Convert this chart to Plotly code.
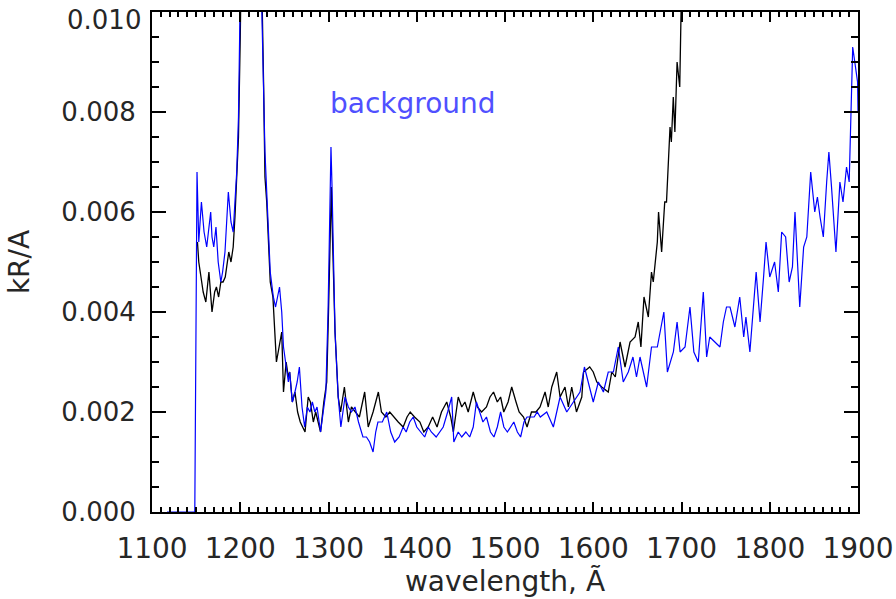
import plotly.graph_objects as go

# ---------------- data ----------------
lam_sig = [1151.5, 1153, 1155.5, 1158, 1161, 1164.5, 1168, 1171, 1173, 1175.5, 1178, 1180.5, 1183, 1187,
           1189.5, 1192, 1194, 1196, 1198, 1200, 1203, 1210, 1216, 1222, 1224.5, 1226.5, 1228, 1230, 1234,
           1237, 1239, 1241, 1244, 1247, 1249, 1252, 1254.5, 1256, 1259, 1262, 1265, 1268, 1273.4, 1277,
           1279.5, 1282.8, 1285.5, 1288, 1291, 1294.7, 1298, 1300, 1302, 1303.2, 1304.5, 1306, 1307.4, 1311,
           1313.7, 1318, 1322.5, 1326, 1330, 1335, 1341, 1345, 1350.5, 1356.5, 1360, 1365, 1369.4, 1374,
           1379, 1384.6, 1389, 1392.6, 1397.5, 1403.6, 1408, 1413, 1418, 1423, 1428, 1434, 1438.5, 1441.5,
           1447, 1451, 1454.6, 1458.3, 1464, 1468.6, 1473.5, 1479, 1483, 1487, 1491.3, 1495, 1498.6, 1503.5,
           1507.6, 1512.5, 1516, 1521, 1525, 1530, 1535, 1539.7, 1545.4, 1549, 1553, 1558.6, 1562.4, 1568,
           1571.8, 1575.6, 1581, 1587, 1589, 1596, 1600, 1604, 1609.6, 1617, 1621, 1625, 1630.4, 1636,
           1641.7, 1647.4, 1651, 1654, 1657.5, 1662.4, 1666, 1668, 1672.6, 1674, 1677.5, 1681, 1683, 1687,
           1688.5, 1690.7, 1692.5, 1695, 1698, 1700, 1702]
val_sig = [0.0054, 0.0050, 0.0047, 0.0044, 0.0042, 0.0048, 0.0040, 0.0044, 0.0045, 0.0043, 0.0046, 0.0046,
           0.0047, 0.0052, 0.0050, 0.0053, 0.0059, 0.0067, 0.0075, 0.0095, 0.0125, 0.0200, 0.0300, 0.0200,
           0.0105, 0.0085, 0.0067, 0.0062, 0.0046, 0.0043, 0.0036, 0.0030, 0.0033, 0.0036, 0.0024, 0.0030,
           0.0027, 0.0028, 0.0022, 0.0024, 0.0020, 0.0018, 0.0016, 0.0023, 0.0022, 0.0018, 0.0020, 0.0018,
           0.0016, 0.0022, 0.0026, 0.0040, 0.0060, 0.0065, 0.0055, 0.0042, 0.0036, 0.0023, 0.0020, 0.0025,
           0.0018, 0.0021, 0.0020, 0.0019, 0.0024, 0.0017, 0.0020, 0.0024, 0.0020, 0.0019, 0.0020, 0.0019,
           0.0018, 0.0017, 0.0019, 0.0020, 0.0019, 0.0018, 0.0016, 0.0017, 0.0019, 0.0017, 0.0020, 0.0022,
           0.0019, 0.0016, 0.0023, 0.0021, 0.0022, 0.0020, 0.0024, 0.0021, 0.0020, 0.0021, 0.0023, 0.0024,
           0.0022, 0.0023, 0.0020, 0.0022, 0.0025, 0.0022, 0.0020, 0.0019, 0.0017, 0.0020, 0.0020, 0.0021,
           0.0024, 0.0021, 0.0025, 0.0028, 0.0023, 0.0025, 0.0021, 0.0025, 0.0020, 0.0023, 0.0028, 0.0029,
           0.0028, 0.0026, 0.0025, 0.0024, 0.0028, 0.0027, 0.0034, 0.0029, 0.0034, 0.0035, 0.0038, 0.0033,
           0.0043, 0.0039, 0.0048, 0.0046, 0.0054, 0.0060, 0.0052, 0.0062, 0.0062, 0.0077, 0.0074, 0.0083,
           0.0076, 0.0090, 0.0085, 0.0105, 0.0130]

lam_bg = [1117, 1148.5, 1151, 1153, 1156, 1159, 1162, 1163.5, 1166.5, 1168, 1170, 1172.5, 1175, 1178, 1180,
          1182.7, 1186.5, 1189.5, 1192, 1194, 1196, 1198, 1200, 1203, 1210, 1216, 1222, 1224.5, 1228, 1230,
          1234, 1237.5, 1240, 1244.5, 1247, 1249, 1251, 1254.5, 1256, 1259, 1262, 1264.5, 1267, 1270, 1273,
          1276, 1279, 1281.7, 1284.5, 1287, 1291, 1294, 1297, 1299.5, 1301.5, 1302.8, 1304, 1305.5, 1307.4,
          1311, 1314, 1318.7, 1322.5, 1326, 1330, 1334, 1339, 1343, 1346.6, 1350.5, 1353.5, 1356, 1361,
          1366, 1370.5, 1375, 1380, 1384.6, 1388, 1392, 1396, 1400, 1404, 1409, 1413, 1416.5, 1422, 1426,
          1430, 1435, 1439.6, 1442, 1447, 1451, 1455.6, 1460, 1464, 1467.6, 1471, 1475, 1479, 1483.5,
          1487.5, 1491.3, 1495, 1498.7, 1502.7, 1506.5, 1510, 1514, 1517.7, 1521.5, 1525, 1529, 1533,
          1536.5, 1540, 1547.3, 1554.8, 1562.4, 1570, 1577.5, 1585, 1590, 1594.5, 1600, 1605.8, 1611.5,
          1617, 1622.8, 1628.4, 1634, 1639.7, 1645, 1649, 1653, 1660.5, 1666, 1672.6, 1680, 1684, 1690.8,
          1695, 1698.4, 1704, 1709.6, 1714, 1719, 1724.7, 1728.5, 1732, 1738, 1743.6, 1747.4, 1751, 1755,
          1760.5, 1766, 1770.5, 1773, 1777.5, 1784.6, 1789, 1793, 1795.8, 1800, 1805.5, 1809.7, 1813.5,
          1818, 1822, 1825.7, 1828.6, 1834, 1838.4, 1842, 1846.4, 1851, 1854, 1857, 1860.7, 1864.5, 1867,
          1870, 1875, 1879.5, 1883, 1887, 1890, 1894, 1896.5, 1899.5, 1900]
val_bg = [0.0, 0.0, 0.0068, 0.0054, 0.0062, 0.0056, 0.0053, 0.0055, 0.0060, 0.0055, 0.0053, 0.0057, 0.0050,
          0.0046, 0.0048, 0.0052, 0.0064, 0.0058, 0.0056, 0.0062, 0.0068, 0.0079, 0.0097, 0.0125, 0.0200,
          0.0300, 0.0200, 0.0100, 0.0072, 0.0063, 0.0048, 0.0043, 0.0041, 0.0045, 0.0040, 0.0033, 0.0030,
          0.0026, 0.0028, 0.0022, 0.0024, 0.0026, 0.0029, 0.0021, 0.0017, 0.0021, 0.0020, 0.0022, 0.0020,
          0.0021, 0.0016, 0.0020, 0.0024, 0.0040, 0.0065, 0.0073, 0.0065, 0.0048, 0.0036, 0.0023, 0.0017,
          0.0023, 0.0021, 0.0020, 0.0021, 0.0018, 0.0015, 0.0015, 0.0014, 0.0012, 0.0016, 0.0018, 0.0018,
          0.0020, 0.0016, 0.0014, 0.0015, 0.0017, 0.0016, 0.0018, 0.0019, 0.0017, 0.0016, 0.0015, 0.0017,
          0.0016, 0.0015, 0.0016, 0.0017, 0.0020, 0.0023, 0.0014, 0.0016, 0.0015, 0.0016, 0.0015, 0.0017,
          0.0022, 0.0020, 0.0018, 0.0019, 0.0016, 0.0015, 0.0017, 0.0020, 0.0017, 0.0016, 0.0017, 0.0018,
          0.0016, 0.0015, 0.0018, 0.0019, 0.0019, 0.0019, 0.0020, 0.0019, 0.0020, 0.0017, 0.0023, 0.0020,
          0.0022, 0.0024, 0.0029, 0.0026, 0.0022, 0.0026, 0.0024, 0.0028, 0.0028, 0.0033, 0.0026, 0.0028,
          0.0031, 0.0027, 0.0031, 0.0025, 0.0033, 0.0033, 0.0040, 0.0028, 0.0032, 0.0038, 0.0032, 0.0033,
          0.0041, 0.0032, 0.0030, 0.0044, 0.0031, 0.0035, 0.0034, 0.0033, 0.0038, 0.0041, 0.0041, 0.0037,
          0.0043, 0.0035, 0.0039, 0.0032, 0.0048, 0.0038, 0.0047, 0.0054, 0.0047, 0.0050, 0.0044, 0.0056,
          0.0055, 0.0046, 0.0049, 0.0060, 0.0041, 0.0053, 0.0055, 0.0068, 0.0060, 0.0063, 0.0059, 0.0055,
          0.0066, 0.0072, 0.0065, 0.0052, 0.0066, 0.0062, 0.0069, 0.0066, 0.0093, 0.0090, 0.0086, 0.0080]

x_range = [1100, 1900]
y_range = [0.0, 0.010]
y_ticks = [0.000, 0.002, 0.004, 0.006, 0.008, 0.010]
label_text = "background"

FONT = "DejaVu Sans"
TXT = "#262626"

fig = go.Figure()
fig.add_trace(go.Scatter(x=lam_sig, y=val_sig, mode="lines",
                         line=dict(color="#000000", width=1.3), showlegend=False))
fig.add_trace(go.Scatter(x=lam_bg, y=val_bg, mode="lines",
                         line=dict(color="#0000ff", width=1.2), showlegend=False))

fig.add_annotation(x=1299, y=0.00818, text=label_text, showarrow=False, xanchor="left",
                   yanchor="middle", font=dict(family=FONT, size=28, color="#5050ff"))

# top y tick label kept inside the page (sits just below the top edge, as in the reference)
fig.add_annotation(xref="paper", yref="paper", x=0, y=1, xanchor="right", yanchor="top",
                   xshift=-9, yshift=9, text="%.3f" % y_ticks[-1], showarrow=False,
                   font=dict(family=FONT, size=26, color=TXT))

fig.update_layout(
    width=896, height=599,
    margin=dict(l=152, r=38, t=12, b=87, autoexpand=False),
    paper_bgcolor="white", plot_bgcolor="white",
    font=dict(family=FONT, size=28, color=TXT),
)
fig.update_xaxes(range=x_range, tickmode="linear", tick0=1100, dtick=100, automargin=False,
                 showgrid=False, zeroline=False, showline=True, linecolor="black", linewidth=2,
                 mirror="ticks", ticks="inside", ticklen=10, tickwidth=2, tickcolor="black",
                 minor=dict(tickmode="linear", dtick=10, ticks="inside", ticklen=5, tickwidth=1.5,
                            tickcolor="black", showgrid=False),
                 ticklabelstandoff=10, ticklabeloverflow="allow",
                 title=dict(text="wavelength, Ã", standoff=4, font=dict(family=FONT, size=28, color=TXT)))
fig.update_yaxes(range=y_range, tickmode="array", tickvals=y_ticks[:-1],
                 ticktext=["%.3f" % v for v in y_ticks[:-1]],
                 automargin=False, tickfont=dict(family=FONT, size=26, color=TXT),
                 showgrid=False, zeroline=False, showline=True, linecolor="black", linewidth=2,
                 mirror="ticks", ticks="inside", ticklen=14, tickwidth=2, tickcolor="black",
                 minor=dict(tickmode="linear", tick0=0, dtick=0.0005, ticks="inside", ticklen=7,
                            tickwidth=1.5, tickcolor="black", showgrid=False),
                 ticklabelstandoff=9, ticklabeloverflow="allow",
                 title=dict(text="kR/A", standoff=24, font=dict(family=FONT, size=28, color=TXT)))

fig.write_html("out.html", config={"displayModeBar": False},
               post_script="document.body.style.margin='0';document.body.style.overflow='hidden';")
